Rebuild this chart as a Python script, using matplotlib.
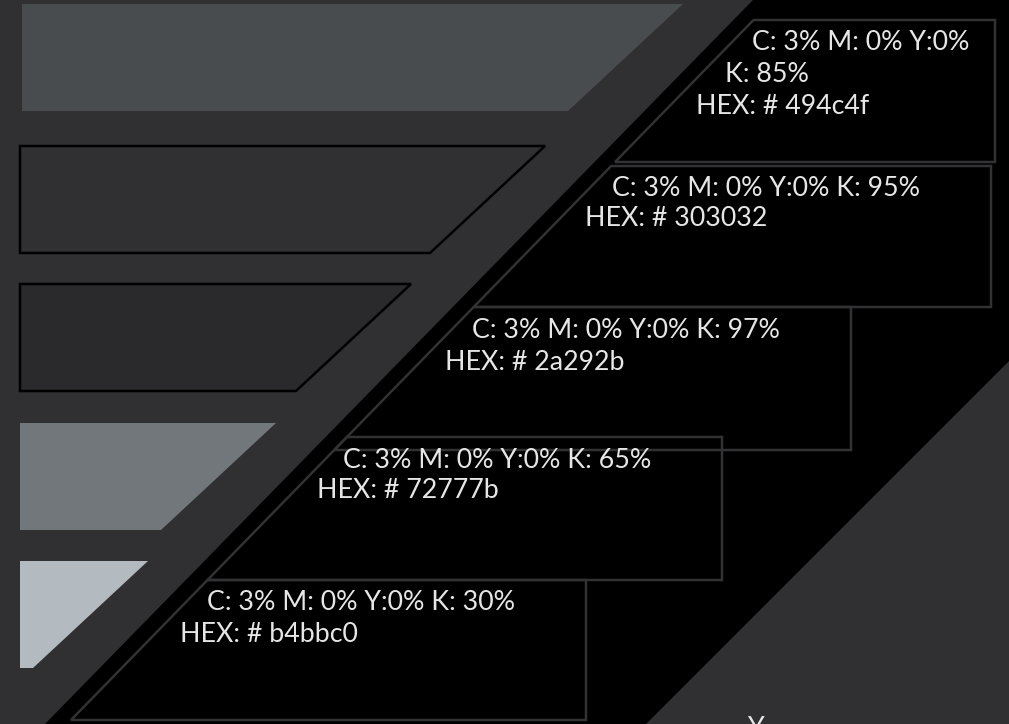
import matplotlib.pyplot as plt
from matplotlib.patches import Polygon

# palette data
hex_codes = ['494c4f', '303032', '2a292b', '72777b', 'b4bbc0']
c_values = [3, 3, 3, 3, 3]
m_values = [0, 0, 0, 0, 0]
y_values = [0, 0, 0, 0, 0]
k_values = [85, 95, 97, 65, 30]

bg = '#303032'
txt = '#e6e6e6'
W, H = 1009, 724

fig = plt.figure(figsize=(W / 100, H / 100), dpi=100)
ax = fig.add_axes([0, 0, 1, 1])
ax.set_xlim(0, W)
ax.set_ylim(H, 0)
ax.axis('off')
fig.patch.set_facecolor(bg)

# black diagonal band
ax.add_patch(Polygon([(753, 0), (W, 0), (W, 361), (646, H), (45, H)],
                     closed=True, facecolor='black', edgecolor='none'))

# left swatches
sw_tops = [4, 146, 284, 423, 561]
sw_right = [683, 545, 411, 276, 148]
sw_h = 107
outlined = [False, True, True, False, False]
for i, code in enumerate(hex_codes):
    t, r = sw_tops[i], sw_right[i]
    x0 = 22 if i == 0 else 20
    pts = [(x0, t), (r, t), (r - 115, t + sw_h), (x0, t + sw_h)]
    ax.add_patch(Polygon(pts, closed=True, facecolor='#' + code,
                         edgecolor='black' if outlined[i] else 'none',
                         linewidth=1.8 if outlined[i] else 0))

# right boxes with labels
box_top = [20, 166, 307, 437, 580]
box_bot = [162, 307, 450, 580, 720]
box_right = [995, 991, 851, 722, 586]


def left_edge(y):
    return 773 - 0.975 * y


for i in range(5):
    t, b, r = box_top[i], box_bot[i], box_right[i]
    pts = [(left_edge(t), t), (r, t), (r, b), (left_edge(b), b)]
    ax.add_patch(Polygon(pts, closed=True, fill=False,
                         edgecolor='#323133', linewidth=1.8))

fs = 19.3
font = 'Lato'
cmy = [f'C: {c_values[i]}% M: {m_values[i]}% Y:{y_values[i]}%' for i in range(5)]

# first box has K on its own line
ax.text(752, 43, cmy[0], color=txt, fontsize=fs, family=font, va='center')
ax.text(725, 75, f'K: {k_values[0]}%', color=txt, fontsize=fs, family=font, va='center')
ax.text(696, 107, f'HEX: # {hex_codes[0]}', color=txt, fontsize=fs, family=font, va='center')

line1 = [(612, 188), (472, 331), (343, 461), (207, 603)]
line2 = [(585, 219), (445, 362), (317, 491), (180, 635)]
for j, i in enumerate(range(1, 5)):
    ax.text(line1[j][0], line1[j][1], f'{cmy[i]} K: {k_values[i]}%',
            color=txt, fontsize=fs, family=font, va='center')
    ax.text(line2[j][0], line2[j][1], f'HEX: # {hex_codes[i]}',
            color=txt, fontsize=fs, family=font, va='center')

# letter cut off by the bottom edge, as in the source image
ax.text(755, 716, 'Y', color=txt, fontsize=fs, family=font, va='top', ha='center')

fig.savefig('out.png', dpi=100, facecolor=bg)
